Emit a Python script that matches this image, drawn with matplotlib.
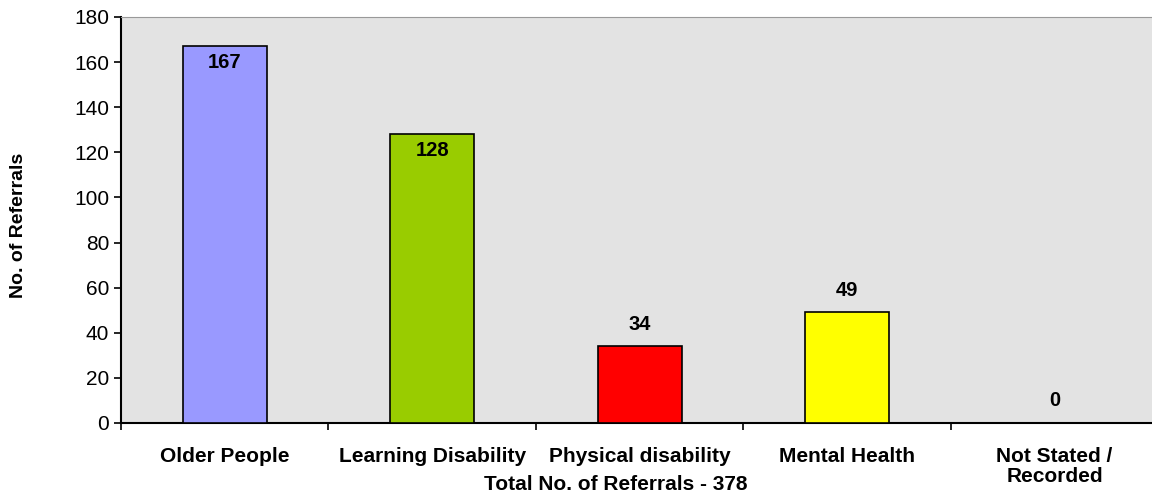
import matplotlib
matplotlib.use("Agg")
import matplotlib.pyplot as plt
import numpy as np

# chart data
categories = ["Older People", "Learning Disability", "Physical disability",
              "Mental Health", "Not Stated /\nRecorded"]
referrals = [167, 128, 34, 49, 0]
bar_colors = ["#9999ff", "#99cc00", "#ff0000", "#ffff00", "#ffffff"]
label_inside = [True, True, False, False, False]
y_ticks = list(range(0, 181, 20))
x_title = "Total No. of Referrals - 378"
y_title = "No. of Referrals"

plt.rcParams["font.family"] = ["Liberation Sans", "DejaVu Sans"]

fig = plt.figure(figsize=(11.52, 4.95), dpi=100)
ax = fig.add_axes([121 / 1152, 1 - 423 / 495, 1 - 121 / 1152, (423 - 17) / 495])
ax.set_facecolor("#e3e3e3")

x = np.arange(len(categories))
bars = ax.bar(x, referrals, width=0.405, color=bar_colors,
              edgecolor="black", linewidth=1.2, zorder=3)
# the zero bar is invisible
bars[-1].set_visible(False)

for rect, val, inside in zip(bars, referrals, label_inside):
    cx = rect.get_x() + rect.get_width() / 2
    if inside:
        ax.annotate(str(val), (cx, val), xytext=(0, -5), textcoords="offset points",
                    ha="center", va="top", fontsize=14.5, fontweight="bold", zorder=4)
    else:
        ax.annotate(str(val), (cx, val), xytext=(0, 9), textcoords="offset points",
                    ha="center", va="bottom", fontsize=14.5, fontweight="bold", zorder=4)

ax.set_ylim(0, 180)
ax.set_yticks(y_ticks)
ax.tick_params(axis="y", labelsize=15, length=5, width=1.2, direction="out")
ax.set_xlim(-0.5, 4.47)
ax.set_xticks(x)
ax.set_xticklabels(categories, fontsize=15, fontweight="bold", linespacing=1.1)
ax.set_xticks(np.arange(-0.5, 4.5, 1.0), minor=True)
ax.tick_params(axis="x", which="major", length=0, pad=17)
ax.tick_params(axis="x", which="minor", length=5, width=1.2, direction="out")
for lbl in ax.get_xticklabels():
    lbl.set_verticalalignment("top")

ax.spines["left"].set_linewidth(1.5)
ax.spines["bottom"].set_linewidth(1.5)
ax.spines["top"].set_color("#999999")
ax.spines["right"].set_visible(False)

fig.text(616 / 1152, 1 - 485 / 495, x_title, ha="center", va="center",
         fontsize=15, fontweight="bold")
fig.text(19 / 1152, 1 - 225 / 495, y_title, ha="center", va="center",
         rotation=90, fontsize=14, fontweight="bold")

fig.savefig("out.png", dpi=100)
